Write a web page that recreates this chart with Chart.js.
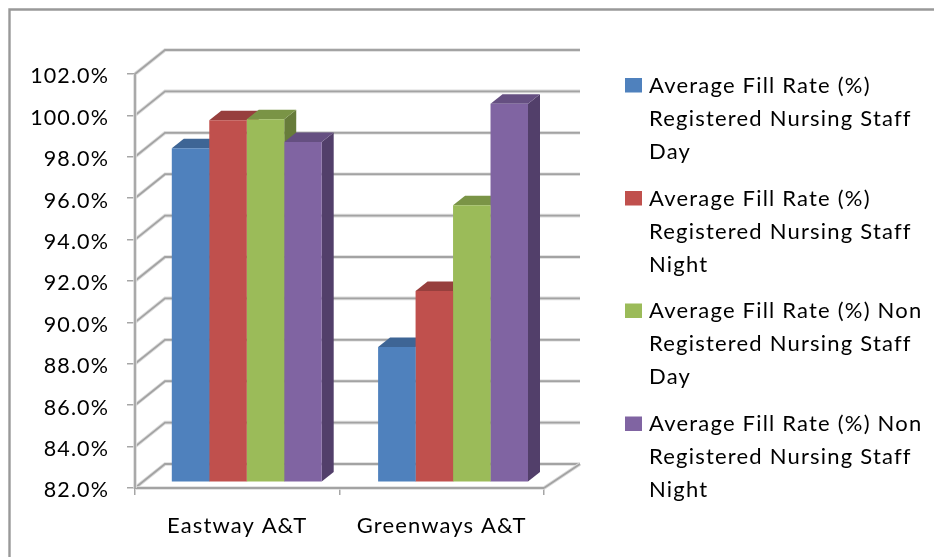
<!DOCTYPE html>
<html>
<head>
<meta charset="utf-8">
<style>
  html, body { margin: 0; padding: 0; background: #fff; overflow: hidden; }
  canvas { display: block; }
</style>
<script src="https://cdn.jsdelivr.net/npm/chart.js@4/dist/chart.umd.min.js"></script>
</head>
<body>
<canvas id="c" width="934" height="557"></canvas>
<script>
const categories = ["Eastway A&T", "Greenways A&T"];
const regDay = [98.1, 88.5];
const regNight = [99.45, 91.2];
const nonRegDay = [99.5, 95.35];
const nonRegNight = [98.4, 100.25];
const legendDay = ["Average Fill Rate (%)", "Registered Nursing Staff", "Day"];
const legendNight = ["Average Fill Rate (%)", "Registered Nursing Staff", "Night"];
const legendNonDay = ["Average Fill Rate (%) Non", "Registered Nursing Staff", "Day"];
const legendNonNight = ["Average Fill Rate (%) Non", "Registered Nursing Staff", "Night"];

const faceColors = ["#4f81bd", "#c0504d", "#9bbb59", "#8064a2"];
const topColors = ["#3e6595", "#973f3d", "#7a9446", "#654f81"];
const sideColors = ["#345580", "#7f3533", "#677c3a", "#523f6a"];

const FONT = "Lato, Carlito, sans-serif";
const TRACKING = "1.1px";

// Depth of the box behind the front axis plane, and of the bars themselves.
const wall = { dx: 30, dy: -24, right: 580 };
const barShift = { x: 9.5, y: -6.5 };
const barDepth = { dx: 12, dy: -9.5 };
const perspectiveStep = 1.8;

function softLine(ctx, pts) {
  ctx.beginPath();
  pts.forEach((p, i) => (i ? ctx.lineTo(p[0], p[1]) : ctx.moveTo(p[0], p[1])));
  ctx.lineCap = "butt";
  ctx.strokeStyle = "#dcdcdc";
  ctx.lineWidth = 3.6;
  ctx.stroke();
  ctx.strokeStyle = "#a3a3a3";
  ctx.lineWidth = 1.8;
  ctx.stroke();
}

const frame = {
  id: "frame",
  beforeDraw(chart) {
    const { ctx } = chart;
    ctx.letterSpacing = TRACKING;
    ctx.save();
    ctx.strokeStyle = "#999";
    ctx.lineWidth = 2.4;
    ctx.beginPath();
    ctx.moveTo(9.5, 570);
    ctx.lineTo(9.5, 9.5);
    ctx.lineTo(950, 9.5);
    ctx.stroke();
    ctx.restore();
  }
};

// Back wall, side wall and floor lines, drawn from the value scale's ticks.
const box3d = {
  id: "box3d",
  afterDatasetsUpdate(chart) {
    // The second group sits a little further right because of the perspective.
    chart.data.datasets.forEach((ds, di) => {
      chart.getDatasetMeta(di).data.forEach((bar, i) => { bar.x += i * perspectiveStep; });
    });
  },
  beforeDatasetsDraw(chart) {
    const { ctx, scales, chartArea } = chart;
    const y = scales.y;
    const floorY = y.getPixelForValue(y.min);
    ctx.save();
    y.ticks.forEach(t => {
      const py = y.getPixelForValue(t.value);
      softLine(ctx, [
        [chartArea.left, py],
        [chartArea.left + wall.dx, py + wall.dy],
        [wall.right, py + wall.dy]
      ]);
    });
    softLine(ctx, [
      [chartArea.right, floorY],
      [wall.right, floorY + wall.dy]
    ]);
    softLine(ctx, [[chartArea.left, floorY], [chartArea.right, floorY]]);
    softLine(ctx, [[chartArea.left, chartArea.top], [chartArea.left, floorY]]);

    // Side and top faces behind each bar's front face.
    chart.data.datasets.forEach((ds, di) => {
      chart.getDatasetMeta(di).data.forEach(bar => {
        const l = bar.x - bar.width / 2 + barShift.x;
        const r = bar.x + bar.width / 2 + barShift.x;
        const t = bar.y + barShift.y;
        const b = floorY + barShift.y;
        ctx.fillStyle = sideColors[di];
        ctx.beginPath();
        ctx.moveTo(r, t);
        ctx.lineTo(r + barDepth.dx, t + barDepth.dy);
        ctx.lineTo(r + barDepth.dx, b + barDepth.dy);
        ctx.lineTo(r, b);
        ctx.closePath();
        ctx.fill();
        ctx.fillStyle = topColors[di];
        ctx.beginPath();
        ctx.moveTo(l, t);
        ctx.lineTo(l + barDepth.dx, t + barDepth.dy);
        ctx.lineTo(r + barDepth.dx, t + barDepth.dy);
        ctx.lineTo(r, t);
        ctx.closePath();
        ctx.fill();
      });
    });
    ctx.restore();

    // Front faces are drawn by the library, moved onto the bars' own plane.
    ctx.save();
    ctx.translate(barShift.x, barShift.y);
  },
  afterDatasetsDraw(chart) {
    chart.ctx.restore();
  }
};

// Wrapped legend at the right of the plot.
const wrappedLegend = {
  id: "wrappedLegend",
  afterDraw(chart) {
    const { ctx } = chart;
    const blockTops = [92.5, 205.5, 318, 431];
    ctx.save();
    ctx.font = "22px " + FONT;
    ctx.letterSpacing = "1.2px";
    ctx.textBaseline = "alphabetic";
    ctx.textAlign = "left";
    chart.data.datasets.forEach((ds, di) => {
      const base = blockTops[di];
      ctx.fillStyle = faceColors[di];
      ctx.fillRect(625, base - 14.5, 17, 14.5);
      ctx.fillStyle = "#000";
      ds.lines.forEach((line, li) => ctx.fillText(line, 649, base + li * 33));
    });
    ctx.restore();
  }
};

new Chart(document.getElementById("c"), {
  type: "bar",
  data: {
    labels: categories,
    datasets: [
      { label: legendDay.join(" "), lines: legendDay, data: regDay, backgroundColor: faceColors[0] },
      { label: legendNight.join(" "), lines: legendNight, data: regNight, backgroundColor: faceColors[1] },
      { label: legendNonDay.join(" "), lines: legendNonDay, data: nonRegDay, backgroundColor: faceColors[2] },
      { label: legendNonNight.join(" "), lines: legendNonNight, data: nonRegNight, backgroundColor: faceColors[3] }
    ]
  },
  options: {
    responsive: false,
    animation: false,
    layout: { padding: { left: 0, top: 74, right: 390, bottom: 0 } },
    datasets: { bar: { categoryPercentage: 0.733, barPercentage: 1 } },
    plugins: { legend: { display: false }, tooltip: { enabled: false } },
    scales: {
      x: {
        afterFit(s) { s.height = 69; },
        border: { display: false },
        grid: { drawOnChartArea: false, drawTicks: true, tickLength: 7, color: "#a6a6a6", lineWidth: 1.5 },
        ticks: { color: "#000", font: { family: FONT, size: 22 }, padding: 18, maxRotation: 0 }
      },
      y: {
        min: 82,
        max: 102,
        afterFit(s) { s.width = 135; },
        border: { display: false },
        grid: { drawOnChartArea: false, drawTicks: true, tickLength: 8, color: "#a6a6a6", lineWidth: 1.5 },
        ticks: {
          stepSize: 2,
          color: "#000",
          font: { family: FONT, size: 21.5 },
          padding: 18,
          labelOffset: 2.5,
          callback: v => v.toFixed(1) + "%"
        }
      }
    }
  },
  plugins: [frame, box3d, wrappedLegend]
});
</script>
</body>
</html>
